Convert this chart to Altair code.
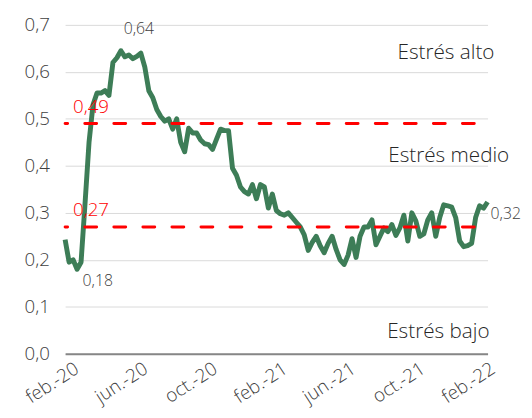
import altair as alt
import pandas as pd

# ---- data (weekly index) ----
start_date = "2020-01-31"
values = [
    0.243, 0.195, 0.200, 0.180, 0.195, 0.320, 0.450, 0.530, 0.555, 0.555,
    0.560, 0.550, 0.620, 0.630, 0.645, 0.632, 0.636, 0.628, 0.633, 0.640,
    0.610, 0.560, 0.545, 0.520, 0.505, 0.495, 0.500, 0.478, 0.500, 0.450,
    0.430, 0.480, 0.470, 0.470, 0.455, 0.447, 0.445, 0.435, 0.457, 0.478,
    0.475, 0.475, 0.395, 0.380, 0.355, 0.345, 0.340, 0.360, 0.330, 0.360,
    0.355, 0.310, 0.340, 0.305, 0.298, 0.295, 0.300, 0.290, 0.280, 0.270,
    0.253, 0.220, 0.237, 0.250, 0.230, 0.215, 0.235, 0.250, 0.222, 0.200,
    0.190, 0.210, 0.245, 0.205, 0.250, 0.270, 0.270, 0.285, 0.232, 0.250,
    0.268, 0.260, 0.275, 0.252, 0.268, 0.295, 0.240, 0.300, 0.283, 0.250,
    0.255, 0.285, 0.300, 0.250, 0.290, 0.317, 0.315, 0.312, 0.290, 0.240,
    0.228, 0.230, 0.235, 0.290, 0.315, 0.310, 0.323,
]
thresholds = [0.49, 0.27]
threshold_labels = ["0,49", "0,27"]
tick_dates = ["2020-02-01", "2020-06-01", "2020-10-01", "2021-02-01",
              "2021-06-01", "2021-10-01", "2022-02-01"]
y_ticks = [0.0, 0.1, 0.2, 0.3, 0.4, 0.5, 0.6, 0.7]
zone_labels = ["Estrés alto", "Estrés medio", "Estrés bajo"]
zone_values = [0.64, 0.42, 0.046]

dates = pd.date_range(start_date, periods=len(values), freq="7D")
df = pd.DataFrame({"fecha": dates, "valor": values})

FONT = "Open Sans"
WEIGHT = 300
GREEN = "#3d7d57"
RED = "#ff0000"
GREY = "#404040"

x_dom = [dates[0].strftime("%Y-%m-%d"), dates[-1].strftime("%Y-%m-%d")]

month_expr = ("['ene.','feb.','mar.','abr.','may.','jun.','jul.','ago.','sep.',"
              "'oct.','nov.','dic.'][month(datum.value)] + '-' + timeFormat(datum.value, '%y')")

x_enc = alt.X(
    "fecha:T",
    scale=alt.Scale(domain=x_dom),
    axis=alt.Axis(
        title=None,
        values=[alt.DateTime(year=int(d[:4]), month=int(d[5:7]), date=1) for d in tick_dates],
        labelExpr=month_expr,
        labelAngle=-33,
        labelAlign="right",
        labelBaseline="middle",
        labelFontSize=19,
        labelFont=FONT,
        labelFontWeight=WEIGHT,
        labelColor=GREY,
        labelPadding=13,
        labelOffset=11,
        ticks=False,
        grid=False,
        domainColor="#868686",
        domainWidth=2,
        labelOverlap=False,
    ),
)
y_enc = alt.Y(
    "valor:Q",
    scale=alt.Scale(domain=[0, 0.7], nice=False, zero=True),
    axis=alt.Axis(
        title=None,
        values=y_ticks,
        labelExpr="replace(format(datum.value, '.1f'), '.', ',')",
        labelFontSize=19,
        labelFont=FONT,
        labelFontWeight=WEIGHT,
        labelColor=GREY,
        labelPadding=16,
        ticks=False,
        domain=False,
        gridColor="#d9d9d9",
        gridWidth=1,
    ),
)

line = alt.Chart(df).mark_line(color=GREEN, strokeWidth=5, strokeJoin="round").encode(
    x=x_enc, y=y_enc
)

thr_df = pd.DataFrame({"valor": thresholds, "lab": threshold_labels,
                       "fecha": [dates[0]] * len(thresholds)})
rules = alt.Chart(thr_df).mark_rule(
    color=RED, strokeWidth=3, strokeDash=[12, 17.5], strokeDashOffset=16, strokeCap="round"
).encode(y="valor:Q")

thr_text = alt.Chart(thr_df).mark_text(
    color=RED, fontSize=19, font=FONT, fontWeight=WEIGHT, align="left", dx=8, dy=-17
).encode(x="fecha:T", y="valor:Q", text="lab:N")


def point_label(idx, text, dx, dy, align="center", size=16):
    d = pd.DataFrame({"fecha": [dates[idx]], "valor": [values[idx]], "t": [text]})
    return alt.Chart(d).mark_text(
        color=GREY, fontSize=size, font=FONT, fontWeight=WEIGHT, align=align, dx=dx, dy=dy
    ).encode(x="fecha:T", y="valor:Q", text="t:N")


imax = values.index(max(values[15:21]))
imin = values.index(min(values[:6]))
lbl_max = point_label(imax, "0,64", -2, -24)
lbl_min = point_label(imin, "0,18", 21, 12)
lbl_end = point_label(len(values) - 1, "0,32", 3, 12, align="left")

zone_layers = []
for lab, v, dx in zip(zone_labels, zone_values, [7, 22, 2]):
    d = pd.DataFrame({"fecha": [dates[-1]], "valor": [v], "t": [lab]})
    zone_layers.append(
        alt.Chart(d).mark_text(color="#262626", fontSize=21, font=FONT, fontWeight=WEIGHT,
                               align="right", dx=dx)
        .encode(x="fecha:T", y="valor:Q", text="t:N")
    )

chart = alt.layer(line, rules, thr_text, lbl_max, lbl_min, lbl_end, *zone_layers).properties(
    width=429, height=334,
    autosize=alt.AutoSizeParams(type="none"),
    padding={"left": 58, "top": 14, "right": 37, "bottom": 58},
).configure_view(stroke=None)

chart.save("out.html", embed_options={"renderer": "svg", "actions": False})
